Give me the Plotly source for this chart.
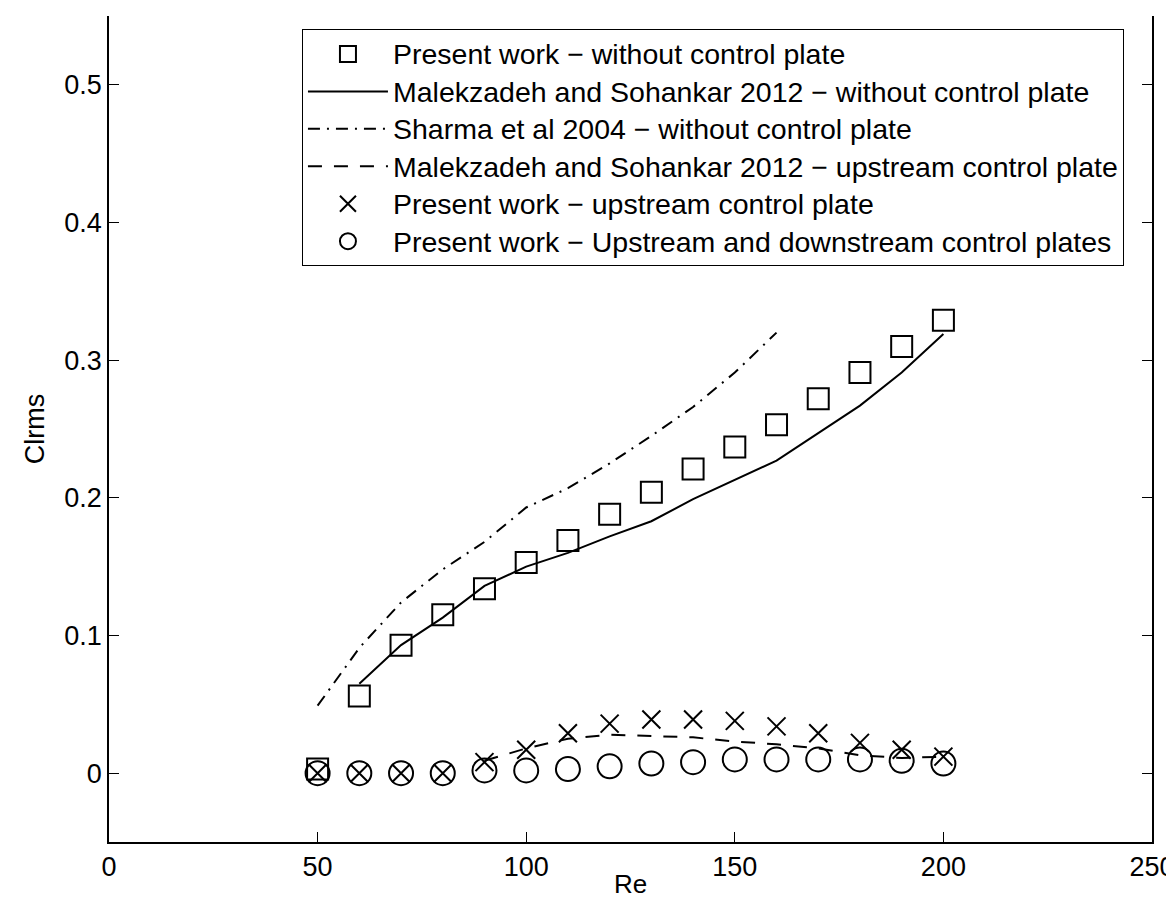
import plotly.graph_objects as go

# Reynolds numbers
re_present = [50, 60, 70, 80, 90, 100, 110, 120, 130, 140, 150, 160, 170, 180, 190, 200]
re_mal = [60, 70, 80, 90, 100, 110, 120, 130, 140, 150, 160, 170, 180, 190, 200]
re_sharma = [50, 60, 70, 80, 90, 100, 110, 120, 130, 140, 150, 160]
re_mal_up = [90, 100, 110, 120, 130, 140, 150, 160, 170, 180, 190, 200]

# Clrms values
present_without = [0.003, 0.056, 0.093, 0.115, 0.134, 0.153, 0.169, 0.188, 0.204, 0.221,
                   0.237, 0.253, 0.272, 0.291, 0.310, 0.329]
mal_without = [0.065, 0.093, 0.113, 0.136, 0.150, 0.160, 0.172, 0.183, 0.199, 0.213,
               0.227, 0.247, 0.267, 0.291, 0.319]
sharma_without = [0.049, 0.091, 0.124, 0.148, 0.168, 0.193, 0.207, 0.225, 0.245, 0.266,
                  0.291, 0.320]
mal_upstream = [0.009, 0.018, 0.025, 0.028, 0.027, 0.026, 0.023, 0.021, 0.018, 0.013,
                0.011, 0.012]
present_upstream = [0.0, 0.0, 0.0, 0.0, 0.008, 0.017, 0.029, 0.036, 0.039, 0.039,
                    0.038, 0.034, 0.029, 0.022, 0.017, 0.012]
present_up_down = [0.0, 0.0, 0.0, 0.0, 0.002, 0.002, 0.003, 0.005, 0.007, 0.008,
                   0.010, 0.010, 0.010, 0.010, 0.009, 0.007]

x_ticks = [0, 50, 100, 150, 200, 250]
y_ticks = [0, 0.1, 0.2, 0.3, 0.4, 0.5]
y_ticktext = ["0", "0.1", "0.2", "0.3", "0.4", "0.5"]

x_title = "Re"
y_title = "Clrms"

names = [
    "Present work \u2212 without control plate",
    "Malekzadeh and Sohankar 2012 \u2212 without control plate",
    "Sharma et al 2004 \u2212 without control plate",
    "Malekzadeh and Sohankar 2012 \u2212 upstream control plate",
    "Present work \u2212 upstream control plate",
    "Present work \u2212 Upstream and downstream control plates",
]

FONT = "Liberation Sans, Arial, Helvetica, sans-serif"


def leg(t):
    return '<span style="font-size:28.5px">' + t + '</span>'


fig = go.Figure()
fig.add_trace(go.Scatter(x=re_present, y=present_without, mode="markers", name=leg(names[0]),
                         marker=dict(symbol="square-open", size=21, color="black",
                                     line=dict(width=2, color="black"))))
fig.add_trace(go.Scatter(x=re_mal, y=mal_without, mode="lines", name=leg(names[1]),
                         line=dict(color="black", width=2)))
fig.add_trace(go.Scatter(x=re_sharma, y=sharma_without, mode="lines", name=leg(names[2]),
                         line=dict(color="black", width=2, dash="12px,7px,2px,7px")))
fig.add_trace(go.Scatter(x=re_mal_up, y=mal_upstream, mode="lines", name=leg(names[3]),
                         line=dict(color="black", width=2, dash="14px,12px")))
fig.add_trace(go.Scatter(x=re_present, y=present_upstream, mode="markers", name=leg(names[4]),
                         marker=dict(symbol="x-thin-open", size=18, color="black",
                                     line=dict(width=2, color="black"))))
fig.add_trace(go.Scatter(x=re_present, y=present_up_down, mode="markers", name=leg(names[5]),
                         marker=dict(symbol="circle-open", size=24, color="black",
                                     line=dict(width=2, color="black"))))

fig.update_layout(
    width=1174, height=898,
    margin=dict(l=101, r=30, t=8, b=64, autoexpand=False),
    paper_bgcolor="white", plot_bgcolor="white",
    font=dict(family=FONT, size=27, color="black"),
    showlegend=True,
    legend=dict(x=0.185, y=0.984, xanchor="left", yanchor="top",
                bordercolor="black", borderwidth=1, bgcolor="white",
                font=dict(family=FONT, size=26.5, color="black"),
                itemwidth=80),
    xaxis=dict(range=[0, 250], tickvals=x_ticks, ticks="inside", ticklen=10,
               tickcolor="black", showline=True, linecolor="black", linewidth=1.5,
               showgrid=False, zeroline=False, mirror=False, automargin=False,
               tickfont=dict(family=FONT, size=27)),
    xaxis2=dict(range=[0, 250], tickvals=x_ticks, overlaying="x", side="top",
                ticks="inside", ticklen=10, tickcolor="black", showline=False,
                showticklabels=False, showgrid=False, zeroline=False, automargin=False),
    yaxis=dict(range=[-0.05, 0.55], tickvals=y_ticks, ticktext=y_ticktext,
               ticks="inside", ticklen=10, tickcolor="black", showline=True,
               linecolor="black", linewidth=1.5, mirror="ticks", automargin=False,
               showgrid=False, zeroline=False,
               tickfont=dict(family=FONT, size=27),
               title=dict(text=y_title, font=dict(family=FONT, size=27), standoff=12)),
    annotations=[dict(text=x_title, xref="paper", yref="paper", x=0.5, y=0,
                      xanchor="center", yanchor="top", yshift=-25, showarrow=False,
                      font=dict(family=FONT, size=26, color="black"))],
)

fig.write_html("out.html")
